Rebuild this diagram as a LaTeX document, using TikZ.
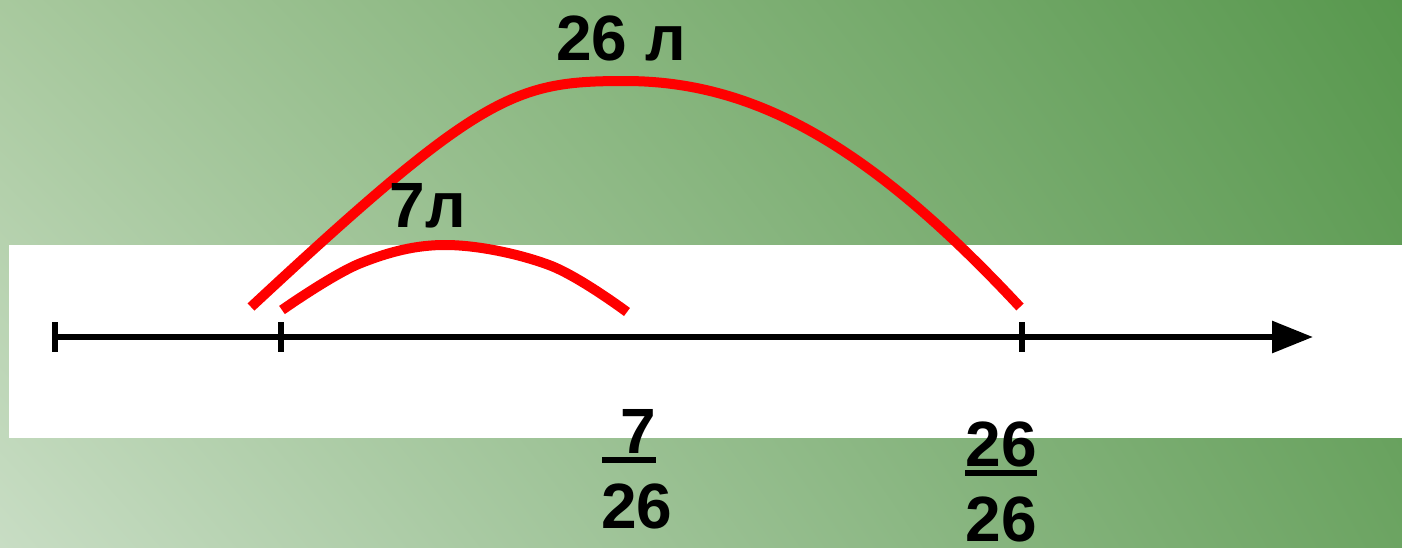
\documentclass[tikz,border=0pt]{standalone}
\usepackage{fontspec}
\setmainfont{Liberation Sans}
\usetikzlibrary{arrows.meta, shadings}
\definecolor{bgtl}{RGB}{168,201,158}
\definecolor{bgtr}{RGB}{88,152,78}
\definecolor{bgbl}{RGB}{200,221,196}
\definecolor{bgbr}{RGB}{108,164,98}

\begin{document}
\begin{tikzpicture}[x=0.75pt, y=-0.75pt,
    every node/.style={font=\fontsize{48}{56}\selectfont\bfseries, inner sep=0pt},
    tick/.style={line width=4.5pt},
    redarc/.style={red, line width=7.5pt},
    bar/.style={line width=4.5pt}]
  \useasboundingbox (0,0) rectangle (1402,547);
  \shade[upper left=bgtl, upper right=bgtr, lower left=bgbl, lower right=bgbr] (0,0) rectangle (1402,547);
  \fill[white] (9,245) rectangle (1402,438);

  \coordinate (start) at (55,337);
  \coordinate (zero) at (281,337);
  \coordinate (one) at (1022,337);
  \coordinate (tip) at (1313,337);
  \draw[line width=4.5pt, -{Triangle[length=30.75pt, width=23.25pt]}] (start) -- (tip);
  \foreach \p in {start, zero, one}
    \draw[tick] ([yshift=11.25pt]\p) -- ([yshift=-11.25pt]\p);

  \coordinate (bigL) at (251,307);
  \coordinate (bigTop) at (625,81);
  \coordinate (bigR) at (1020,307);
  \draw[redarc] (bigL) .. controls (481,93) and (515,81) .. (bigTop)
    .. controls (755,81) and (870,146) .. (bigR);
  \draw[redarc] plot[smooth, tension=0.6] coordinates {(282,310) (361,263) (447,245) (549,265) (627,312)};

  \node[anchor=base] (whole) at (621,60) {26 л};
  \node[anchor=base] (part) at (428,227) {7л};
  \node[anchor=base west] (num1) at (602,453) {\ 7};
  \node[anchor=base] (den1) at (637,528) {26};
  \node[anchor=base] (num2) at (1001,466) {26};
  \node[anchor=base] (den2) at (1001,541) {26};
  \draw[bar] ([yshift=-5pt]num1.base west) -- ([yshift=-5pt]num1.base east);
  \draw[bar] ([yshift=-5.5pt]num2.base west) -- ([yshift=-5.5pt]num2.base east);
\end{tikzpicture}
\end{document}
